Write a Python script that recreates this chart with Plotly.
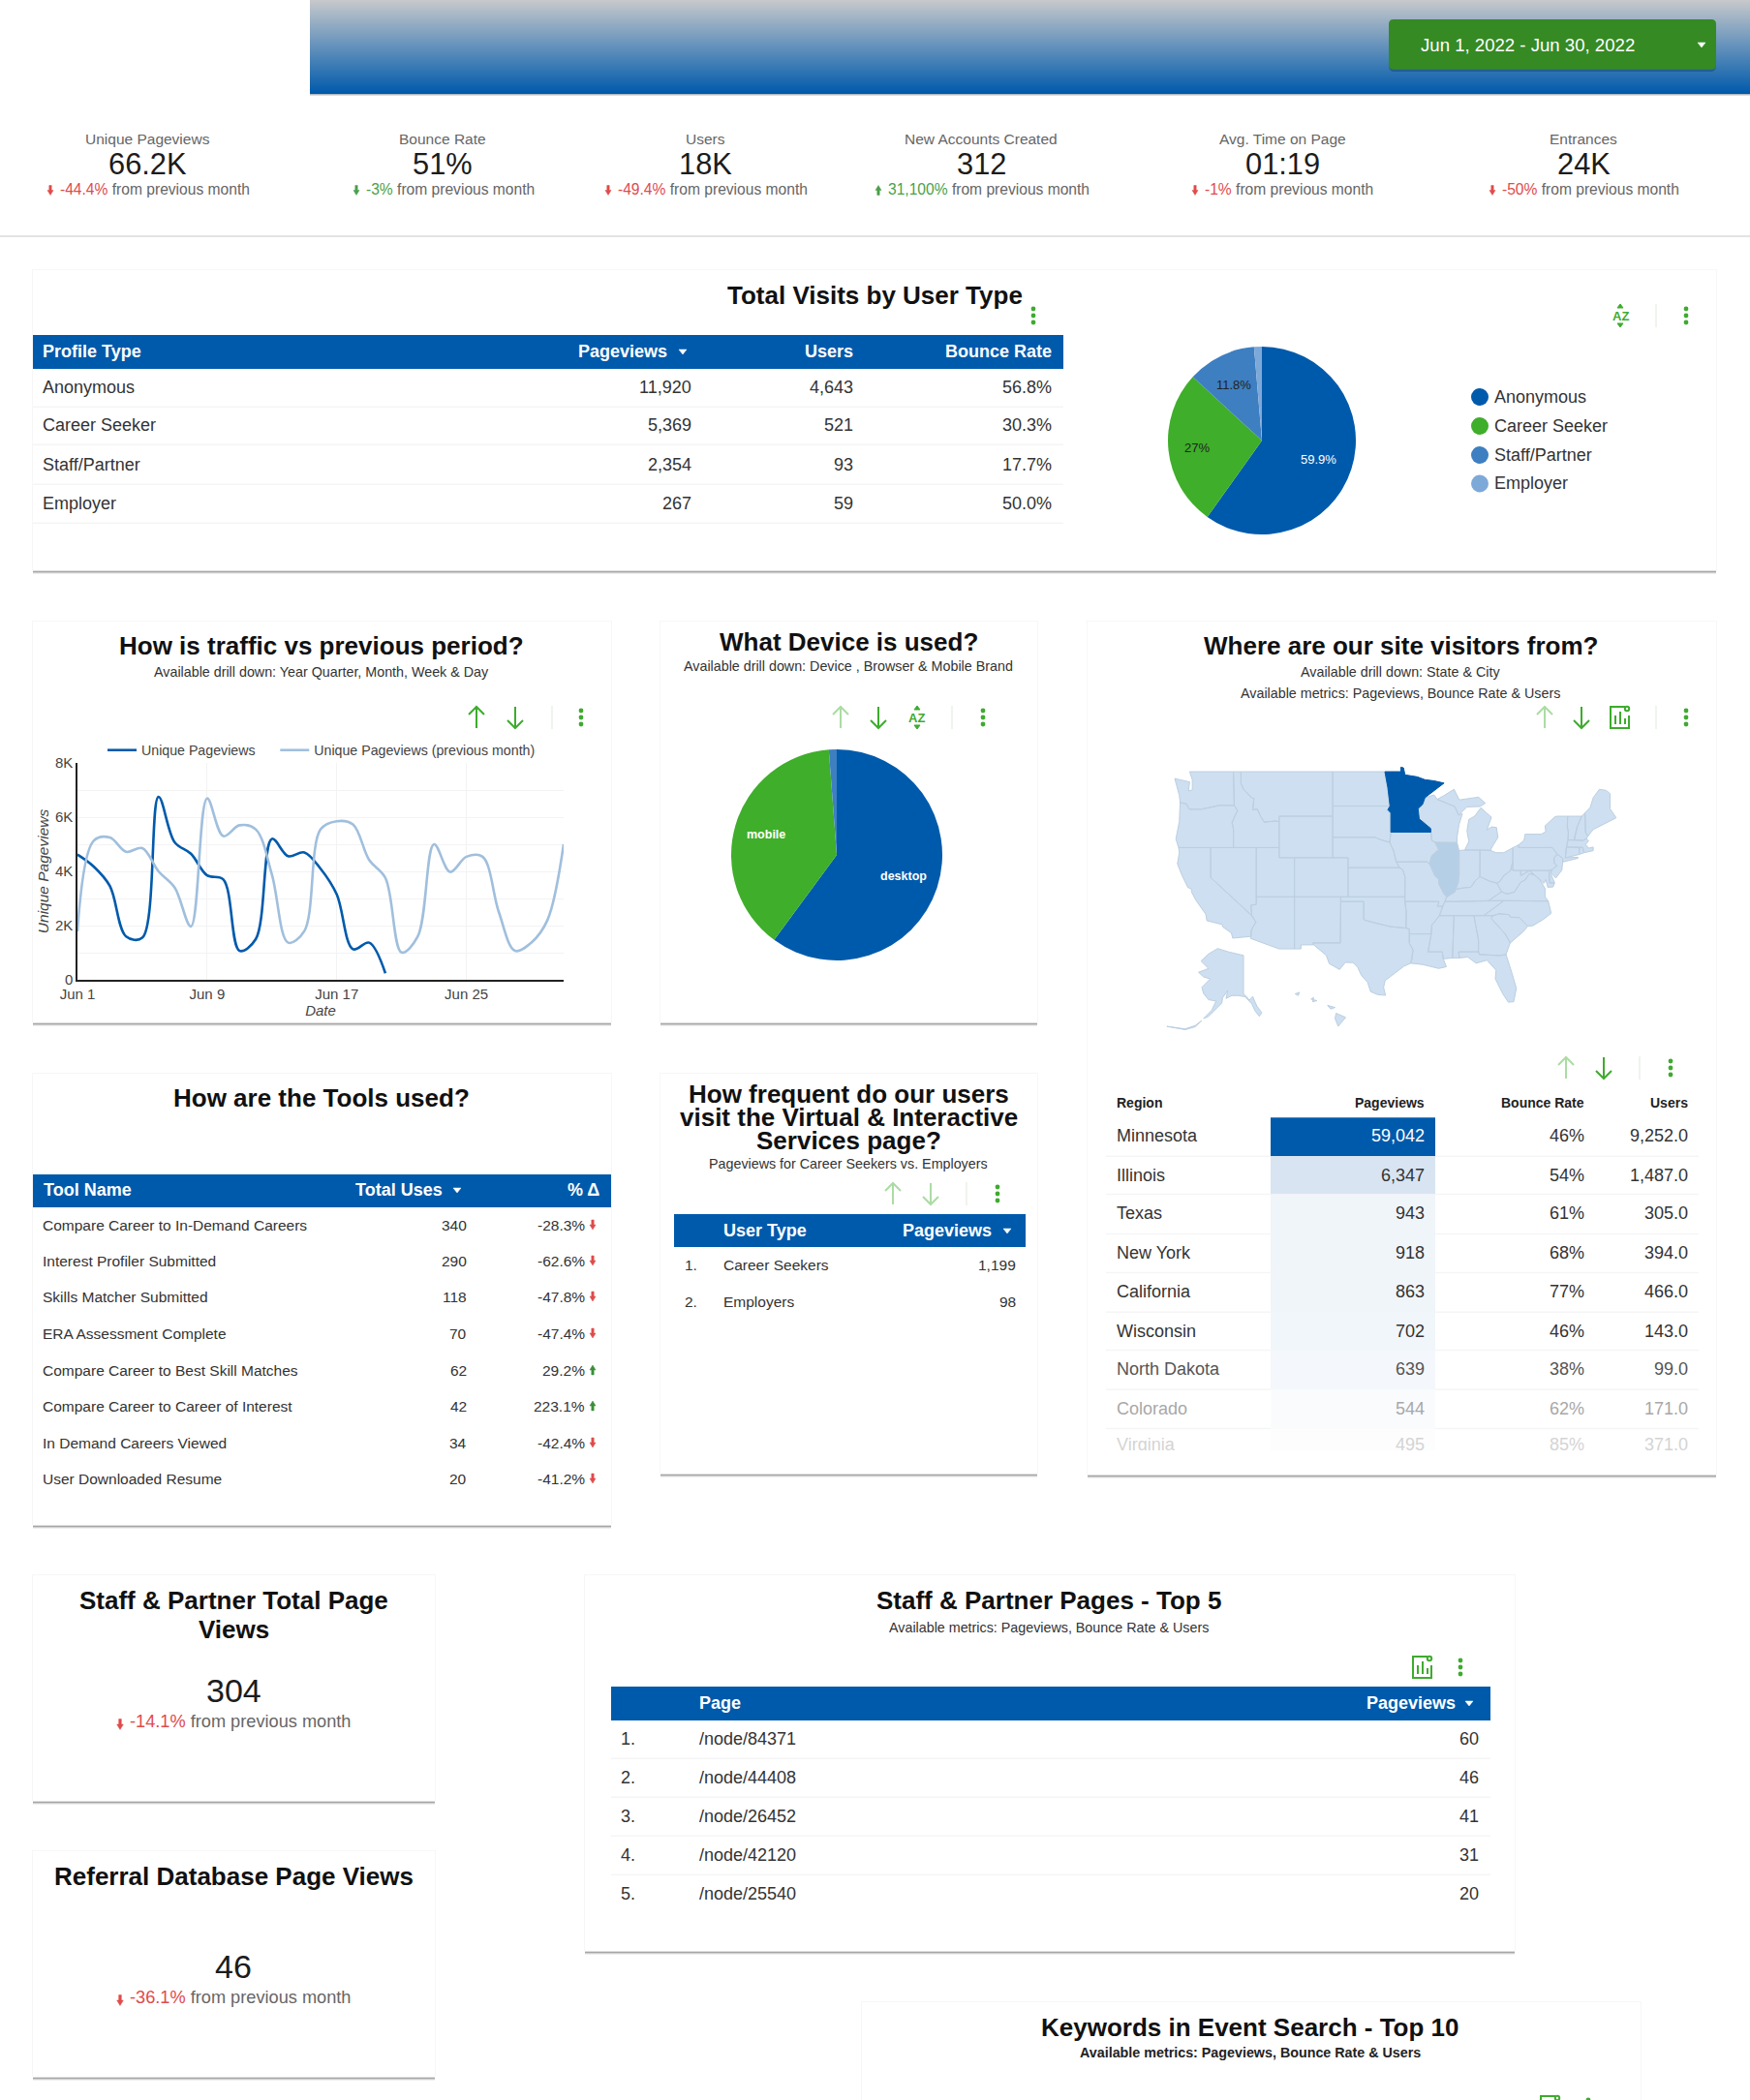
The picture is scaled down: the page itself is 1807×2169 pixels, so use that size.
import math
import plotly.graph_objects as go
import pandas as pd

W, H = 1807, 2169
BLUE = "#005aab"; GREEN = "#3eab2e"; FADED = "#abdca3"; RED = "#e04b4b"; UPC = "#4a9f4a"
DARK = "#333333"; GREY = "#666666"
SANS = "Liberation Sans"

# ---------- data ----------
scorecard_names = ["Unique Pageviews", "Bounce Rate", "Users", "New Accounts Created", "Avg. Time on Page", "Entrances"]
scorecard_values = ["66.2K", "51%", "18K", "312", "01:19", "24K"]
scorecard_deltas = ["-44.4%", "-3%", "-49.4%", "31,100%", "-1%", "-50%"]
scorecard_good = [False, True, False, True, False, False]

profile_types = ["Anonymous", "Career Seeker", "Staff/Partner", "Employer"]
profile_pageviews = [11920, 5369, 2354, 267]
profile_users = ["4,643", "521", "93", "59"]
profile_bounce = ["56.8%", "30.3%", "17.7%", "50.0%"]

current_views = [4620, 4180, 3460, 1600, 1550, 6750, 5070, 4650, 3850, 3700, 1070, 1500, 5200, 4560, 4700, 4100, 3150, 1130, 1370, 240]
previous_views = [1790, 5130, 5250, 4720, 4860, 4000, 3400, 1970, 6690, 5300, 5700, 5550, 3880, 1370, 1800, 5550, 5850, 5730,
                  4420, 3760, 1010, 1600, 5000, 3980, 4540, 4540, 2500, 1070, 1370, 2200, 5000]

device_names = ["desktop", "mobile", "tablet"]
device_share = [60.1, 38.7, 1.2]

region_names = ["Minnesota", "Illinois", "Texas", "New York", "California", "Wisconsin", "North Dakota", "Colorado", "Virginia"]
region_views = [59042, 6347, 943, 918, 863, 702, 639, 544, 495]
region_bounce = ["46%", "54%", "61%", "68%", "77%", "46%", "38%", "62%", "85%"]
region_users = ["9,252.0", "1,487.0", "305.0", "394.0", "466.0", "143.0", "99.0", "171.0", "371.0"]

tool_names = ["Compare Career to In-Demand Careers", "Interest Profiler Submitted", "Skills Matcher Submitted",
              "ERA Assessment Complete", "Compare Career to Best Skill Matches", "Compare Career to Career of Interest",
              "In Demand Careers Viewed", "User Downloaded Resume"]
tool_uses = [340, 290, 118, 70, 62, 42, 34, 20]
tool_delta = [-28.3, -62.6, -47.8, -47.4, 29.2, 223.1, -42.4, -41.2]

visit_types = ["Career Seekers", "Employers"]
visit_views = ["1,199", "98"]

page_paths = ["/node/84371", "/node/44408", "/node/26452", "/node/42120", "/node/25540"]
page_views = [60, 46, 41, 31, 20]

# simplified state outlines, lon/lat (no map files can be fetched offline)
STATES = {
 "WA": [(-122.75,49),(-117.03,49),(-116.92,46),(-119,46),(-119.3,45.93),(-121.2,45.65),(-122.8,45.65),(-123.2,46.15),(-124,46.25),(-124.1,46.9),(-124.7,48.4),(-123.2,48.15),(-122.75,48.1),(-122.9,47.3),(-122.4,47.4),(-122.4,48.3)],
 "OR": [(-124,46.25),(-123.2,46.15),(-122.8,45.65),(-121.2,45.65),(-119.3,45.93),(-119,46),(-116.92,46),(-116.5,45.5),(-116.85,45),(-117.2,44.4),(-117.03,43.8),(-117.03,42),(-124.2,42),(-124.55,42.85),(-124.1,44.5)],
 "CA": [(-124.2,42),(-120,42),(-120,39),(-114.63,35),(-114.1,34.3),(-114.7,33.4),(-114.72,32.72),(-117.12,32.53),(-117.3,33.1),(-118.4,33.75),(-118.5,34.03),(-119.2,34.15),(-120.5,34.45),(-120.65,35.15),(-121.9,36.6),(-122.5,37.5),(-122.5,37.8),(-123,38),(-123.8,39.3),(-124.35,40.4),(-124.1,41.5)],
 "NV": [(-120,42),(-114.04,42),(-114.04,36.2),(-114.75,36.1),(-114.63,35),(-120,39)],
 "ID": [(-117.03,49),(-116.05,49),(-116.05,48),(-115.7,47.45),(-114.6,46.65),(-114.35,46.65),(-114.5,45.6),(-113.9,45.65),(-113.45,44.95),(-113,44.45),(-111.5,44.55),(-111.05,44.48),(-111.05,42),(-117.03,42),(-117.03,43.8),(-117.2,44.4),(-116.85,45),(-116.5,45.5),(-116.92,46)],
 "MT": [(-116.05,49),(-104.05,49),(-104.05,45),(-111.05,45),(-111.05,44.48),(-111.5,44.55),(-113,44.45),(-113.45,44.95),(-113.9,45.65),(-114.5,45.6),(-114.35,46.65),(-114.6,46.65),(-115.7,47.45),(-116.05,48)],
 "WY": [(-111.05,45),(-104.05,45),(-104.05,41),(-111.05,41)],
 "UT": [(-114.04,42),(-111.05,42),(-111.05,41),(-109.05,41),(-109.05,37),(-114.04,37)],
 "CO": [(-109.05,41),(-102.05,41),(-102.05,37),(-109.05,37)],
 "AZ": [(-114.04,37),(-109.05,37),(-109.05,31.33),(-111.07,31.33),(-114.8,32.5),(-114.72,32.72),(-114.7,33.4),(-114.1,34.3),(-114.63,35),(-114.75,36.1),(-114.04,36.2)],
 "NM": [(-109.05,37),(-103,37),(-103.05,32),(-106.62,32),(-106.53,31.78),(-108.2,31.78),(-108.2,31.33),(-109.05,31.33)],
 "ND": [(-104.05,49),(-97.23,49),(-96.85,47.6),(-96.56,45.94),(-104.05,45.94)],
 "SD": [(-104.05,45.94),(-96.56,45.94),(-96.85,45.6),(-96.45,45.3),(-96.45,43.5),(-96.6,42.5),(-97.9,42.8),(-98.5,43),(-104.05,43)],
 "NE": [(-104.05,43),(-98.5,43),(-97.9,42.8),(-96.6,42.5),(-96.1,41.7),(-95.75,40.58),(-95.3,40),(-102.05,40),(-102.05,41),(-104.05,41)],
 "KS": [(-102.05,40),(-95.3,40),(-94.9,39.8),(-94.6,39.1),(-94.62,37),(-102.05,37)],
 "OK": [(-103,37),(-94.62,37),(-94.62,36.5),(-94.43,35.4),(-94.48,33.64),(-96.5,33.8),(-98,34.1),(-99.5,34.4),(-100,34.56),(-100,36.5),(-103,36.5)],
 "TX": [(-103,36.5),(-100,36.5),(-100,34.56),(-99.5,34.4),(-98,34.1),(-96.5,33.8),(-94.48,33.64),(-94.04,33.55),(-94.04,33),(-94.04,31.99),(-93.55,31.2),(-93.7,30.1),(-93.85,29.7),(-94.75,29.35),(-95.9,28.6),(-97.2,27.7),(-97.4,26.9),(-97.15,25.96),(-98.2,26.05),(-99.1,26.4),(-99.5,27.5),(-100.3,28.3),(-100.8,29.25),(-101.4,29.77),(-102.4,29.8),(-103.15,28.98),(-104.5,29.65),(-104.9,30.6),(-106.53,31.78),(-106.62,32),(-103.05,32)],
 "MN": [(-97.23,49),(-95.15,49),(-95.15,49.38),(-94.8,49.33),(-94.6,48.72),(-93,48.55),(-92,48.3),(-90.8,48.2),(-89.5,48),(-92,46.7),(-92.3,46.1),(-92.9,45.7),(-92.75,44.75),(-91.25,43.85),(-91.22,43.5),(-96.45,43.5),(-96.45,45.3),(-96.85,45.6),(-96.56,45.94),(-96.85,47.6)],
 "IA": [(-96.45,43.5),(-91.22,43.5),(-91.1,42.7),(-90.65,42.5),(-90.2,41.8),(-91.1,41.2),(-91.4,40.4),(-91.75,40.6),(-95.75,40.58),(-96.1,41.7),(-96.6,42.5)],
 "MO": [(-95.75,40.58),(-91.75,40.6),(-91.4,40.4),(-90.7,39.2),(-90.2,38.8),(-90.2,38.4),(-89.5,37.3),(-89.15,37),(-89.4,36.5),(-89.7,36),(-90.37,36),(-90.15,36.5),(-94.62,36.5),(-94.62,37),(-94.6,39.1),(-94.9,39.8),(-95.3,40)],
 "AR": [(-94.62,36.5),(-90.15,36.5),(-90.37,36),(-89.7,36),(-90.1,35),(-91.1,33.95),(-91.17,33),(-94.04,33),(-94.04,33.55),(-94.48,33.64),(-94.43,35.4)],
 "LA": [(-94.04,33),(-91.17,33),(-91.6,31),(-89.73,31),(-89.6,30.2),(-89.2,29.3),(-90.2,29.1),(-91.3,29.3),(-92.3,29.55),(-93.85,29.7),(-93.7,30.1),(-93.55,31.2),(-94.04,31.99)],
 "WI": [(-92,46.7),(-90.8,46.95),(-90.4,46.55),(-88.1,45.9),(-87.6,45.1),(-87.1,45.25),(-87.55,44.2),(-87.8,43),(-87.8,42.49),(-90.65,42.5),(-91.1,42.7),(-91.22,43.5),(-91.25,43.85),(-92.75,44.75),(-92.9,45.7),(-92.3,46.1)],
 "IL": [(-90.65,42.5),(-87.8,42.49),(-87.53,41.7),(-87.53,39.35),(-87.65,38.5),(-88,37.8),(-88.1,37.5),(-89.15,37),(-89.5,37.3),(-90.2,38.4),(-90.2,38.8),(-90.7,39.2),(-91.4,40.4),(-91.1,41.2),(-90.2,41.8)],
 "IN": [(-87.53,41.7),(-87.2,41.75),(-84.8,41.76),(-84.82,39.1),(-85.4,38.7),(-86,38),(-86.8,37.95),(-88,37.8),(-87.65,38.5),(-87.53,39.35)],
 "OH": [(-84.8,41.76),(-83.45,41.73),(-82.7,41.5),(-81.7,41.5),(-80.52,41.98),(-80.52,40.64),(-80.8,39.7),(-81.7,39.2),(-82.2,38.6),(-82.6,38.42),(-83.6,38.65),(-84.82,39.1)],
 "MIL": [(-86.8,41.76),(-84.8,41.76),(-83.45,41.73),(-83.1,42.2),(-82.45,43),(-82.65,43.95),(-83.3,44),(-83.9,43.7),(-83.3,44.9),(-84.7,45.78),(-85.5,45),(-86.25,44.7),(-86.5,43.6),(-86.25,42.6)],
 "MIU": [(-90.4,46.55),(-89.6,46.85),(-88.2,47.45),(-87.5,46.5),(-85,46.75),(-84.1,46.2),(-84.8,45.9),(-86.5,45.85),(-87.6,45.1),(-88.1,45.9)],
 "KY": [(-89.4,36.5),(-89.15,37),(-88.1,37.5),(-88,37.8),(-86.8,37.95),(-86,38),(-85.4,38.7),(-84.82,39.1),(-83.6,38.65),(-82.6,38.42),(-81.97,37.54),(-83.68,36.6),(-88.05,36.5)],
 "TN": [(-90.1,35),(-89.7,36),(-89.4,36.5),(-88.05,36.5),(-83.68,36.6),(-81.68,36.59),(-84.32,35),(-88.2,35)],
 "MS": [(-91.17,33),(-91.1,33.95),(-90.1,35),(-88.2,35),(-88.4,30.3),(-89.6,30.2),(-89.73,31),(-91.6,31)],
 "AL": [(-88.2,35),(-85.6,35),(-85,32.3),(-85,31),(-87.6,31),(-87.5,30.3),(-88.4,30.3)],
 "GA": [(-85.6,35),(-83.1,35),(-83.35,34.7),(-81.5,33),(-80.85,32),(-81.4,30.7),(-82.2,30.57),(-84.86,30.7),(-85,31),(-85,32.3)],
 "FL": [(-87.5,30.3),(-87.6,31),(-85,31),(-84.86,30.7),(-82.2,30.57),(-81.4,30.7),(-80.6,28.5),(-80.05,26.8),(-80.4,25.2),(-81.1,25.15),(-81.8,26.1),(-82.8,27.9),(-82.7,28.9),(-83.9,30.05),(-85.3,29.7),(-86.4,30.4)],
 "SC": [(-83.35,34.7),(-83.1,35),(-82.3,35.2),(-81,35.1),(-80.8,34.82),(-79.67,34.8),(-78.55,33.85),(-79.2,33.2),(-80.85,32),(-81.5,33)],
 "NC": [(-84.32,35),(-81.68,36.59),(-75.87,36.55),(-75.5,35.25),(-76.5,34.6),(-77.9,33.9),(-78.55,33.85),(-79.67,34.8),(-80.8,34.82),(-81,35.1),(-82.3,35.2),(-83.1,35)],
 "VA": [(-83.68,36.6),(-81.97,37.54),(-81.3,37.3),(-80.3,37.5),(-79.5,38.5),(-78.85,38.8),(-78.35,39.4),(-77.75,39.3),(-77.05,38.85),(-76.3,37.9),(-76.3,37),(-75.87,36.55),(-81.68,36.59)],
 "WV": [(-82.6,38.42),(-82.2,38.6),(-81.7,39.2),(-80.8,39.7),(-80.52,40.64),(-80.52,39.72),(-79.48,39.72),(-79.48,39.2),(-78.35,39.7),(-77.75,39.3),(-78.35,39.4),(-78.85,38.8),(-79.5,38.5),(-80.3,37.5),(-81.3,37.3),(-81.97,37.54)],
 "MD": [(-79.48,39.72),(-75.79,39.72),(-75.7,38.46),(-75.05,38.45),(-75.25,38.03),(-75.95,38),(-76.2,38.8),(-76.45,38.4),(-77.05,38.85),(-77.75,39.3),(-78.35,39.7),(-79.48,39.2)],
 "DE": [(-75.79,39.72),(-75.4,39.8),(-75.55,39.4),(-75.05,38.45),(-75.7,38.46)],
 "PA": [(-80.52,41.98),(-79.76,42.27),(-79.76,42),(-75.35,42),(-74.7,41.35),(-75.13,40.97),(-75.1,40.5),(-74.75,40.2),(-75.4,39.8),(-75.79,39.72),(-80.52,39.72)],
 "NY": [(-79.76,42.27),(-79.05,42.7),(-78.9,43.3),(-76.8,43.3),(-76.2,43.55),(-76.3,44.1),(-75,44.95),(-74.7,45),(-73.34,45),(-73.4,44),(-73.25,43.5),(-73.3,42.75),(-73.5,42.05),(-73.65,41),(-72,41.05),(-72,40.95),(-73.95,40.58),(-74,40.95),(-74.7,41.35),(-75.35,42),(-79.76,42)],
 "NJ": [(-74.7,41.35),(-74,40.95),(-74,40.5),(-74.1,39.75),(-74.9,38.95),(-75.55,39.5),(-75.4,39.8),(-74.75,40.2),(-75.1,40.5),(-75.13,40.97)],
 "CT": [(-73.5,42.05),(-71.8,42.02),(-71.85,41.32),(-73.65,41)],
 "RI": [(-71.8,42.02),(-71.38,42.02),(-71.2,41.5),(-71.85,41.32)],
 "MA": [(-73.5,42.05),(-73.3,42.75),(-71.3,42.7),(-70.9,42.88),(-70.6,42.65),(-71,42.3),(-70.6,41.95),(-70,42.05),(-70,41.7),(-71.2,41.5),(-71.38,42.02)],
 "VT": [(-73.34,45),(-71.5,45),(-72.1,44),(-72.45,43),(-72.46,42.73),(-73.3,42.75),(-73.25,43.5),(-73.4,44)],
 "NH": [(-71.5,45),(-71.08,45.3),(-71,43.5),(-70.7,43.1),(-70.9,42.88),(-71.3,42.7),(-72.46,42.73),(-72.45,43),(-72.1,44)],
 "ME": [(-71.08,45.3),(-70.4,45.8),(-70,46.7),(-69.2,47.45),(-68.3,47.35),(-67.8,47.07),(-67.8,45.7),(-67,44.85),(-68.5,44.3),(-70,43.75),(-70.7,43.1),(-71,43.5)],
}
ALASKA = [
 [(-141,69.65),(-141,60.3),(-139.5,59.9),(-137.5,58.9),(-135.5,59.8),(-133,57.5),(-130,55.9),(-131.5,55),(-134,56.3),(-136,58),(-140,59.7),(-144,60),(-148,60),(-151.5,59.3),(-150.5,61.2),(-153.5,59.5),(-154,58.2),(-158,56.5),(-162,55),(-165,54.5),(-160,56.5),(-157.5,58.7),(-162,59),(-165,60.5),(-166,62),(-161,64),(-165,64.5),(-168,65.6),(-162,66.5),(-166.5,68.3),(-162,70),(-156.5,71.3),(-150,70.5)],
 [(-166,54),(-170,52.8),(-176,52),(-187,52.6),(-176,51.8),(-170,52.5)],
]
HAWAII = [
 [(-155.9,20.2),(-155,19.8),(-155.7,18.95),(-156,19.7)],
 [(-156.7,20.95),(-156,20.75),(-156.4,20.6)],
 [(-158.25,21.55),(-157.7,21.4),(-158.1,21.3),(-158,21.7)],
 [(-159.75,22.05),(-159.35,22.2),(-159.45,21.9)],
]

# ---------- helpers ----------
shapes, notes = [], []
def X(p): return p / W
def Y(p): return 1 - p / H

def txt(x, y, s, size=18, color=DARK, anchor="left", bold=False, font=SANS, ya="middle", angle=0):
    if bold:
        s = f"<b>{s}</b>"
    notes.append(dict(x=X(x), y=Y(y), xref="paper", yref="paper", text=s, showarrow=False, xanchor=anchor, yanchor=ya,
                      borderpad=0, borderwidth=0, textangle=angle, font=dict(size=size, color=color, family=font)))

def rect(x0, y0, x1, y1, fill, layer="below", line=None):
    shapes.append(dict(type="rect", xref="paper", yref="paper", x0=X(x0), x1=X(x1), y0=Y(y0), y1=Y(y1), fillcolor=fill,
                       line=dict(width=0 if line is None else 1, color=line or fill), layer=layer))

def path(pts, color, width=2, fill=None, close=False):
    d = ""
    for seg in pts:
        d += "M" + " L".join(f"{X(a):.5f},{Y(b):.5f}" for a, b in seg) + (" Z " if close else " ")
    shapes.append(dict(type="path", xref="paper", yref="paper", path=d, fillcolor=fill or "rgba(0,0,0,0)",
                       line=dict(color=color, width=width), layer="below"))

def circle(x, y, r, color):
    shapes.append(dict(type="circle", xref="paper", yref="paper", x0=X(x - r), x1=X(x + r), y0=Y(y + r), y1=Y(y - r),
                       fillcolor=color, line=dict(width=0), layer="below"))

def card(x0, y0, x1, y1):
    rect(x0 - 1, y0 - 1, x1 + 1, y1 - 1, "#f7f7f7")
    for i, c in enumerate(["#dedede", "#a6a6a6", "#cfcfcf", "#eeeeee"]):
        rect(x0, y1 - 1 + i, x1, y1 + i, c)
    rect(x0, y0, x1, y1 - 1, "#ffffff")

def arrow(x, y, up, color):
    d = -1 if up else 1
    path([[(x, y - 11 * d), (x, y + 11 * d)], [(x - 8, y + 3 * d), (x, y + 11 * d), (x + 8, y + 3 * d)]], color, 2)

def dots(x, y, color=GREEN):
    for k in (-7, 0, 7):
        circle(x, y + k, 2.4, color)

def divider(x, y):
    rect(x - 0.5, y - 12, x + 0.5, y + 12, "#dfe9dc")

def az(x, y):
    txt(x, y, "AZ", 13, GREEN, "center", True, SANS)
    path([[(x - 3, y - 8), (x, y - 12), (x + 3, y - 8)]], GREEN, 1, GREEN, True)
    path([[(x - 3, y + 8), (x, y + 12), (x + 3, y + 8)]], GREEN, 1, GREEN, True)

def chart_icon(x, y):
    path([[(x + 5, y - 11), (x - 10, y - 11), (x - 10, y + 11), (x + 9, y + 11), (x + 9, y - 2)]], GREEN, 2)
    path([[(x - 5, y + 7), (x - 5, y - 2)], [(x, y + 7), (x, y - 6)], [(x + 5, y + 7), (x + 5, y + 1)]], GREEN, 2)
    circle(x + 7, y - 9, 3.2, GREEN)
    circle(x + 7, y - 9, 1.2, "#ffffff")

def mini(x, y, up, color, scale=1.0):
    s = scale
    if up:
        pts = [(x - 1.2*s, y + 5*s), (x + 1.2*s, y + 5*s), (x + 1.2*s, y), (x + 3*s, y), (x, y - 5*s), (x - 3*s, y), (x - 1.2*s, y)]
    else:
        pts = [(x - 1.2*s, y - 5*s), (x + 1.2*s, y - 5*s), (x + 1.2*s, y), (x + 3*s, y), (x, y + 5*s), (x - 3*s, y), (x - 1.2*s, y)]
    path([pts], color, 0.5, color, True)

def caret(x, y, color="#ffffff"):
    path([[(x - 4, y - 2), (x + 4, y - 2), (x, y + 3)]], color, 0.5, color, True)

def delta_text(x, y, d, good, size, tail=" from previous month"):
    c = UPC if good else RED
    txt(x, y, f'<span style="color:{c}">{d}</span>{tail}', size, GREY, "left")

TITLE = 26
SUB = 14.3
# ---------- banner ----------
top, bot = (198, 200, 203), (0, 90, 171)
for i in range(0, 97):
    f = i / 96
    c = tuple(round(a + (b - a) * f) for a, b in zip(top, bot))
    rect(320, i, W, 97, f"rgb{c}")
rect(320, 97, W, 98, "#b4b9be"); rect(320, 98, W, 99, "#dddddd")
def round_box(x0, y0, x1, y1, r, fill):
    shapes.append(dict(type="path", xref="paper", yref="paper", layer="below", fillcolor=fill, line=dict(width=0),
                       path=f"M{X(x0)},{Y(y0 + r)} Q{X(x0)},{Y(y0)} {X(x0 + r)},{Y(y0)} L{X(x1 - r)},{Y(y0)} Q{X(x1)},{Y(y0)} {X(x1)},{Y(y0 + r)} "
                            f"L{X(x1)},{Y(y1 - r)} Q{X(x1)},{Y(y1)} {X(x1 - r)},{Y(y1)} L{X(x0 + r)},{Y(y1)} Q{X(x0)},{Y(y1)} {X(x0)},{Y(y1 - r)} Z"))
round_box(1434, 21, 1772, 74, 6, "rgba(0,30,70,0.28)")
round_box(1434, 20, 1772, 71.7, 5, "#358a24")
txt(1467, 46, "Jun 1, 2022 - Jun 30, 2022", 18.6, "#ffffff", "left")
caret(1757, 46)

# ---------- scorecards ----------
centres = [152, 457, 728, 1013, 1324, 1635]
arrow_x = [52, 368, 628, 907, 1234, 1541]
for i, n in enumerate(scorecard_names):
    txt(centres[i], 143.5, n, 15.5, GREY, "center")
    txt(centres[i], 169.5, scorecard_values[i], 30.8, "#1c1c1c", "center")
    mini(arrow_x[i], 196.5, scorecard_deltas[i][0] != "-", UPC if scorecard_good[i] else RED)
    delta_text(arrow_x[i] + 10, 195, scorecard_deltas[i], scorecard_good[i], 15.6)
rect(0, 243, W, 245, "#e3e3e3")

# ---------- card 1 ----------
card(34, 279, 1772, 590)
txt(903, 305, "Total Visits by User Type", TITLE, "#111111", "center", True)
dots(1067, 326); az(1673, 326); divider(1710, 326); dots(1741, 326)
rect(34, 346, 1098, 381, BLUE)
txt(44, 363, "Profile Type", 18, "#fff", bold=True)
txt(689, 363, "Pageviews", 18, "#fff", "right", True); caret(705, 363)
txt(881, 363, "Users", 18, "#fff", "right", True)
txt(1086, 363, "Bounce Rate", 18, "#fff", "right", True)
ys = [400, 439, 480, 520]
for i, y in enumerate(ys):
    txt(44, y, profile_types[i], 18)
    txt(714, y, f"{profile_pageviews[i]:,}", 18, anchor="right")
    txt(881, y, profile_users[i], 18, anchor="right")
    txt(1086, y, profile_bounce[i], 18, anchor="right")
    rect(34, y + 19.5, 1098, y + 21, "#f5f5f5")
pie1_colors = [BLUE, "#3fae2a", "#3d7fc1", "#7da9d8"]
for y, n, c in zip([410, 440, 470, 499.5], profile_types, pie1_colors):
    circle(1528, y, 9, c)
    txt(1543, y, n, 18)
def pct(v, tot):
    return f"{v / tot * 100:.1f}".rstrip("0").rstrip(".") + "%"
total = sum(profile_pageviews)
for i, (lx, ly, ink) in enumerate([(1361, 474, "#ffffff"), (1236, 462, "#222222"), (1274, 397, "#222222")]):
    txt(lx, ly, pct(profile_pageviews[i], total), 13, ink, "center")

# ---------- card 2 (line) ----------
card(34, 642, 631, 1057)
txt(332, 667, "How is traffic vs previous period?", TITLE, "#111111", "center", True)
txt(332, 694, "Available drill down: Year Quarter, Month, Week &amp; Day", SUB, "#333", "center")
arrow(492, 741, True, GREEN); arrow(532, 741, False, GREEN); divider(570, 741); dots(600, 741)

# ---------- card 3 (device) ----------
card(682, 642, 1071, 1057)
txt(876, 663, "What Device is used?", TITLE, "#111111", "center", True)
txt(876, 688, "Available drill down: Device , Browser &amp; Mobile Brand", SUB, "#333", "center")
arrow(868, 741, True, FADED); arrow(907, 741, False, GREEN); az(947, 741); divider(983, 741); dots(1015, 741)
txt(791, 862, device_names[1], 12.5, "#ffffff", "center", True)
txt(933, 905, device_names[0], 12.5, "#ffffff", "center", True)

# ---------- card 4 (map + region table) ----------
card(1123, 642, 1772, 1524)
txt(1446, 667, "Where are our site visitors from?", TITLE, "#111111", "center", True)
txt(1446, 694, "Available drill down: State &amp; City", SUB, "#333", "center")
txt(1446, 716, "Available metrics: Pageviews, Bounce Rate &amp; Users", SUB, "#333", "center")
arrow(1595, 741, True, FADED); arrow(1633, 741, False, GREEN); chart_icon(1673, 741); divider(1710, 741); dots(1741, 741)
arrow(1617, 1103, True, FADED); arrow(1656, 1103, False, GREEN); divider(1693, 1103); dots(1725, 1103)
txt(1153, 1139, "Region", 14, "#222", bold=True)
txt(1471, 1139, "Pageviews", 14, "#222", "right", True)
txt(1636, 1139, "Bounce Rate", 14, "#222", "right", True)
txt(1743, 1139, "Users", 14, "#222", "right", True)
row_edges = [1154.3, 1194, 1233.3, 1274.3, 1314.3, 1355, 1394.3, 1435, 1475.3, 1498]
row_text = [1172.7, 1213.7, 1252.7, 1293.7, 1333.7, 1374.7, 1413.7, 1454.7, 1493.7]
cell_fill = [BLUE, "#d8e4f1", "#f0f5fa", "#f0f5fa", "#f0f5fa", "#f1f6fa", "#f4f7fb", "#f9fbfd", "#fdfdfe"]
row_ink = [DARK, DARK, DARK, DARK, DARK, DARK, "#555555", "#a8a8a8", "#d4d4d4"]
for i in range(9):
    if i < 8:
        rect(1142, row_edges[i + 1] - .5, 1754, row_edges[i + 1] + 1, "#f5f5f5")
    rect(1312, row_edges[i], 1482, row_edges[i + 1], cell_fill[i])
    if i == 8:
        continue
    txt(1153, row_text[i], region_names[i], 18, row_ink[i])
    txt(1471, row_text[i], f"{region_views[i]:,}", 18, "#ffffff" if i == 0 else row_ink[i], "right")
    txt(1636, row_text[i], region_bounce[i], 18, row_ink[i], "right")
    txt(1743, row_text[i], region_users[i], 18, row_ink[i], "right")
rect(1130, 1498, 1765, 1515, "#ffffff", layer="above")

# ---------- card 5 (tools) ----------
card(34, 1109, 631, 1576)
txt(332, 1134, "How are the Tools used?", TITLE, "#111111", "center", True)
rect(34, 1213, 631, 1247, BLUE)
txt(45, 1229, "Tool Name", 18, "#fff", bold=True)
txt(457, 1229, "Total Uses", 18, "#fff", "right", True); caret(472, 1229)
txt(619, 1229, "% Δ", 18, "#fff", "right", True)
for i, y in enumerate([1265, 1302, 1339, 1377, 1415, 1452, 1490, 1527]):
    txt(44, y, tool_names[i], 15.5)
    txt(482, y, str(tool_uses[i]), 15.5, anchor="right")
    txt(604, y, f"{tool_delta[i]:.1f}%", 15.5, anchor="right")
    mini(612, y, tool_delta[i] > 0, "#3a8f3a" if tool_delta[i] > 0 else RED)

# ---------- card 6 (visits) ----------
card(682, 1109, 1071, 1523)
for y, s in zip([1130, 1154, 1178], ["How frequent do our users", "visit the Virtual &amp; Interactive", "Services page?"]):
    txt(876, y, s, TITLE, "#111111", "center", True)
txt(876, 1202, "Pageviews for Career Seekers vs. Employers", SUB, "#333", "center")
arrow(922, 1233, True, FADED); arrow(961, 1233, False, FADED); divider(998, 1233); dots(1030, 1233)
rect(696, 1254, 1059, 1288, BLUE)
txt(747, 1271, "User Type", 18, "#fff", bold=True)
txt(1024, 1271, "Pageviews", 18, "#fff", "right", True); caret(1040, 1271)
for i, y in enumerate([1306, 1344]):
    txt(707, y, f"{i + 1}.", 15.5)
    txt(747, y, visit_types[i], 15.5)
    txt(1049, y, visit_views[i], 15.5, anchor="right")

# ---------- small cards ----------
card(34, 1627, 449, 1861)
txt(241, 1653, "Staff &amp; Partner Total Page", TITLE, "#111111", "center", True)
txt(241, 1683, "Views", TITLE, "#111111", "center", True)
txt(241, 1746, "304", 34, "#1c1c1c", "center")
mini(124, 1781, False, RED, 1.1)
delta_text(134, 1778, "-14.1%", False, 18.2)
card(34, 1912, 449, 2146)
txt(241, 1938, "Referral Database Page Views", TITLE, "#111111", "center", True)
txt(241, 2031, "46", 34, "#1c1c1c", "center")
mini(124, 2066, False, RED, 1.1)
delta_text(134, 2063, "-36.1%", False, 18.2)

# ---------- pages ----------
card(604, 1627, 1564, 2016)
txt(1083, 1653, "Staff &amp; Partner Pages - Top 5", TITLE, "#111111", "center", True)
txt(1083, 1680.5, "Available metrics: Pageviews, Bounce Rate &amp; Users", SUB, "#333", "center")
chart_icon(1469, 1722); dots(1508, 1722)
rect(631, 1742, 1539, 1777, BLUE)
txt(722, 1759, "Page", 18, "#fff", bold=True)
txt(1503, 1759, "Pageviews", 18, "#fff", "right", True); caret(1517, 1759)
for i, y in enumerate([1796, 1836, 1876, 1916, 1956]):
    txt(641, y, f"{i + 1}.", 18)
    txt(722, y, page_paths[i], 18)
    txt(1527, y, str(page_views[i]), 18, anchor="right")
    if i < 4:
        rect(631, y + 19.5, 1539, y + 21, "#f5f5f5")

# ---------- keywords ----------
card(890, 2068, 1694, 2200)
txt(1291, 2094, "Keywords in Event Search - Top 10", TITLE, "#111111", "center", True)
txt(1291, 2120, "Available metrics: Pageviews, Bounce Rate &amp; Users", SUB, "#222", "center", True)
chart_icon(1601, 2176); dots(1640, 2176)

# ---------- traces ----------
fig = go.Figure()
fig.add_trace(go.Pie(labels=profile_types, values=profile_pageviews, sort=False, direction="clockwise", rotation=0,
                     marker=dict(colors=pie1_colors), textinfo="none",
                     domain=dict(x=[X(1206), X(1400)], y=[Y(552), Y(358)]), showlegend=False))
fig.add_trace(go.Pie(labels=device_names, values=device_share, sort=False, direction="clockwise", rotation=0,
                     marker=dict(colors=[BLUE, "#3fae2a", "#3d7fc1"]), textinfo="none",
                     domain=dict(x=[X(755), X(973)], y=[Y(992), Y(774)]), showlegend=False))

days_now = pd.date_range("2022-06-01", periods=len(current_views))
days_prev = pd.date_range("2022-06-01", periods=len(previous_views))
fig.add_trace(go.Scatter(x=days_now, y=current_views, name="Unique Pageviews\u00a0\u00a0\u00a0\u00a0", mode="lines",
                         line=dict(color=BLUE, width=2.6, shape="spline", smoothing=1.0)))
fig.add_trace(go.Scatter(x=days_prev, y=previous_views, name="Unique Pageviews (previous month)", mode="lines",
                         line=dict(color="#a0bfdd", width=2.6, shape="spline", smoothing=1.0)))

# ---------- map: Mercator-style outlines on a hidden axis ----------
def merc(lat):
    return math.degrees(math.log(math.tan(math.radians(45 + lat / 2))))
def px_lon(px): return -124.7 + (px - 1213) / 7.9
def px_merc(py): return 56.37 - (py - 797) / 7.84
def polys(rings):
    xs, ys_ = [], []
    for ring in rings:
        xs += [lon for lon, lat in ring] + [ring[0][0], None]
        ys_ += [merc(lat) for lon, lat in ring] + [merc(ring[0][1]), None]
    return xs, ys_
def inset(rings, x0, y0, lon0, lat0, sx, sy):
    xs, ys_ = [], []
    for ring in rings:
        r = ring + [ring[0]]
        xs += [px_lon(x0 + (lon - lon0) * sx) for lon, lat in r] + [None]
        ys_ += [px_merc(y0 + (lat0 - lat) * sy) for lon, lat in r] + [None]
    return xs, ys_

LOW, MID = "#cddff0", "#b5cfe6"
OUT = "#bccfe0"
others = [v for k, v in STATES.items() if k not in ("MN", "IL")]
ox, oy = polys(others)
ax_, ay_ = inset(ALASKA, 1284, 1027, -141, 60.3, 1.72, 4.3)
hx, hy = inset(HAWAII, 1384, 1053, -155.5, 19.6, 11, 10.8)
fig.add_trace(go.Scatter(x=ox + ax_ + hx, y=oy + ay_ + hy, mode="lines", fill="toself", fillcolor=LOW, name="Other states",
                         line=dict(color=OUT, width=1), xaxis="x3", yaxis="y3", showlegend=False, hoverinfo="skip"))
ix, iy = polys([STATES["IL"]])
fig.add_trace(go.Scatter(x=ix, y=iy, mode="lines", fill="toself", fillcolor=MID, name="Illinois",
                         line=dict(color=OUT, width=1), xaxis="x3", yaxis="y3", showlegend=False))
mx, my = polys([STATES["MN"]])
fig.add_trace(go.Scatter(x=mx, y=my, mode="lines", fill="toself", fillcolor=BLUE, name="Minnesota",
                         line=dict(color=BLUE, width=1), xaxis="x3", yaxis="y3", showlegend=False))

# half-hidden last table row
rx = [1153, 1471, 1636, 1743]
rt = [region_names[8], f"{region_views[8]:,}", region_bounce[8], region_users[8]]
rp = ["middle right", "middle left", "middle left", "middle left"]
fig.add_trace(go.Scatter(x=rx, y=[row_text[8]] * 4, text=rt, mode="text", textposition=rp, xaxis="x2", yaxis="y2",
                         textfont=dict(size=18, family=SANS, color=row_ink[8]), showlegend=False, hoverinfo="skip", cliponaxis=False))

fig.update_layout(
    width=W, height=H, autosize=False, margin=dict(l=0, r=0, t=0, b=0, autoexpand=False), paper_bgcolor="#ffffff", plot_bgcolor="rgba(0,0,0,0)",
    font=dict(family=SANS, color=DARK), shapes=shapes, annotations=notes,
    legend=dict(orientation="h", x=X(106), y=Y(759), xanchor="left", yanchor="top", bgcolor="rgba(0,0,0,0)",
                font=dict(size=14.2, family=SANS, color="#444444"), itemwidth=30, tracegroupgap=0),
    xaxis=dict(domain=[X(80), X(582)], range=["2022-06-01", "2022-07-01"], tick0="2022-06-01", dtick=8 * 86400000, tickformat="%b %-d",
               showline=True, linecolor="#222222", linewidth=1.5, gridcolor="#f3f3f3", ticks="", zeroline=False, automargin=False,
               tickfont=dict(size=15, color="#444444", family=SANS),
               title=dict(text="<i>Date</i>", font=dict(size=15, color="#444444", family=SANS), standoff=5)),
    yaxis=dict(domain=[Y(1012), Y(788)], range=[0, 8000], tickvals=[0, 2000, 4000, 6000, 8000], ticktext=["0", "2K", "4K", "6K", "8K"],
               showline=True, linecolor="#222222", linewidth=1.5, gridcolor="#f3f3f3", ticks="", zeroline=False, automargin=False,
               minor=dict(dtick=1000, showgrid=True, gridcolor="#f3f3f3"),
               tickfont=dict(size=15, color="#444444", family=SANS),
               title=dict(text="<i>Unique Pageviews</i>", font=dict(size=15.5, color="#444444", family=SANS), standoff=2)),
    xaxis2=dict(domain=[0, 1], range=[0, W], visible=False, anchor="y2"),
    yaxis2=dict(domain=[0, 1], range=[H, 0], visible=False, anchor="x2"),
    xaxis3=dict(domain=[X(1190), X(1700)], range=[px_lon(1190), px_lon(1700)], visible=False, anchor="y3"),
    yaxis3=dict(domain=[Y(1075), Y(780)], range=[px_merc(1075), px_merc(780)], visible=False, anchor="x3"),
)
fig.write_html("out.html", post_script="document.body.style.margin='0';document.body.style.overflow='hidden';",
               config=dict(displayModeBar=False))
